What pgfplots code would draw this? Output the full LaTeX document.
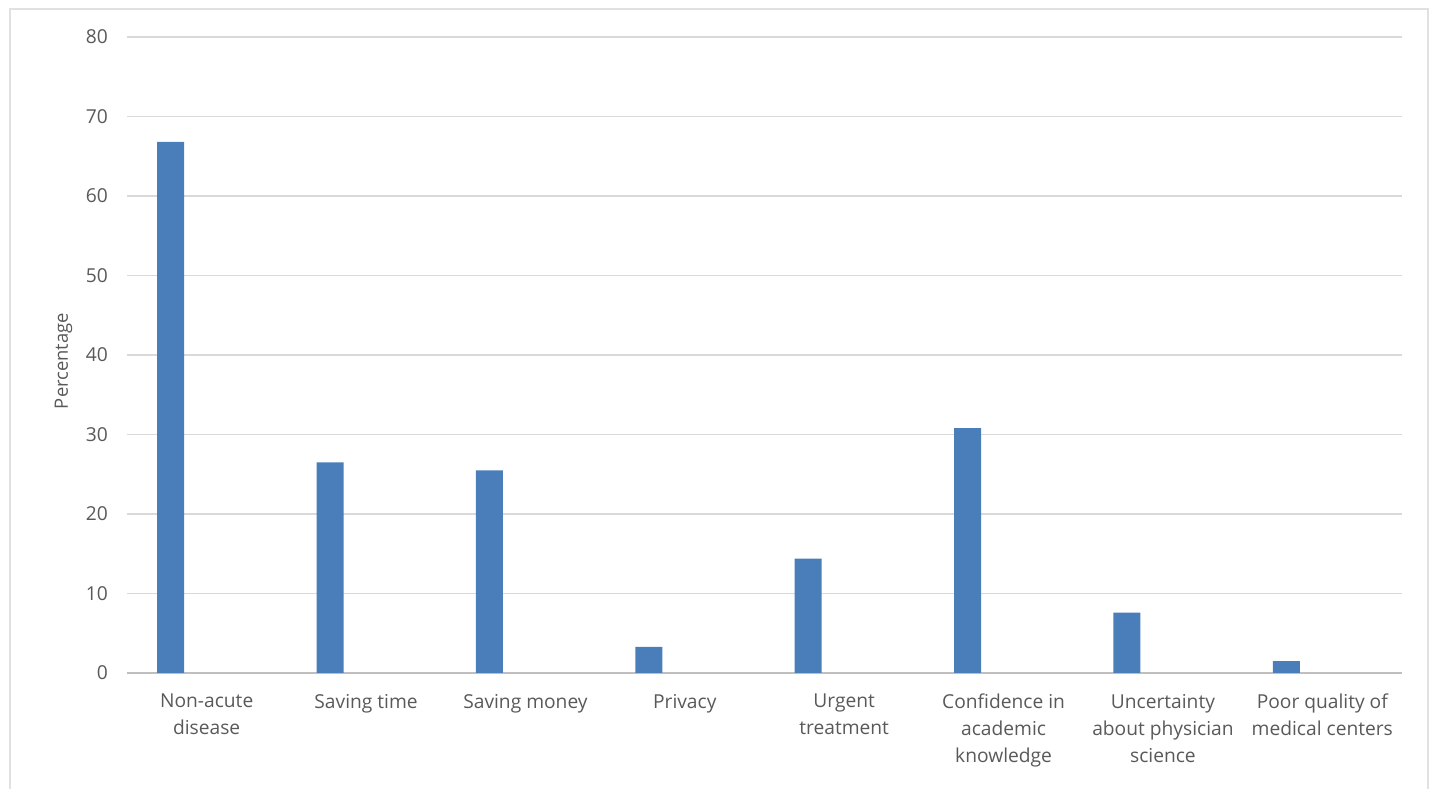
\documentclass[border=0pt]{standalone}
\usepackage{pgfplots}
\pgfplotsset{compat=1.18}
\usepackage{fontspec}
\setmainfont{Open Sans}
\definecolor{barblue}{HTML}{4A7EBB}
\definecolor{txtgray}{HTML}{595959}
\definecolor{gridgray}{HTML}{D9D9D9}
\definecolor{axgray}{HTML}{BFBFBF}
\begin{document}
\begin{tikzpicture}
\begin{axis}[
  scale only axis,
  width=637.5pt, height=318pt,
  xmin=-0.5, xmax=7.5,
  ymin=0, ymax=80,
  ytick={0,10,...,80},
  xtick={0,...,7},
  xticklabels={Non-acute\\disease, Saving time, Saving money, Privacy, Urgent\\treatment, Confidence in\\academic\\knowledge, Uncertainty\\about physician\\science, Poor quality of\\medical centers},
  xticklabel style={align=center, font=\fontsize{9.6}{13.5}\selectfont, text=txtgray, yshift=-7pt},
  yticklabel style={font=\fontsize{9.6}{10}\selectfont, text=txtgray, xshift=-6pt},
  /pgf/number format/assume math mode=true,
  ylabel={Percentage},
  ylabel style={font=\fontsize{9.2}{10}\selectfont, text=txtgray},
  every axis y label/.append style={at={(ticklabel cs:0.5)}, xshift=-3pt},
  major tick length=0pt,
  axis line style={draw=none},
  ymajorgrids,
  grid style={draw=gridgray, line width=0.6pt},
  axis x line*=bottom,
  axis y line*=left,
  y axis line style={draw=none},
  x axis line style={draw=axgray, line width=0.6pt, -},
  clip=false,
]
\addplot[ybar, bar width=13.5pt, bar shift=-18pt, fill=barblue, draw=none] coordinates {
  (0,66.8) (1,26.5) (2,25.5) (3,3.3) (4,14.4) (5,30.8) (6,7.6) (7,1.5)
};
\draw[draw=gridgray!80, line width=0.8pt]
  ([xshift=-58.5pt,yshift=-58pt]rel axis cs:0,0) -- ([xshift=-58.5pt,yshift=14pt]rel axis cs:0,1)
  -- ([xshift=13pt,yshift=14pt]rel axis cs:1,1) -- ([xshift=13pt,yshift=-58pt]rel axis cs:1,0);
\path ([xshift=-63.5pt,yshift=-58pt]rel axis cs:0,0) rectangle ([xshift=15pt,yshift=18.5pt]rel axis cs:1,1);
\end{axis}
\end{tikzpicture}
\end{document}
